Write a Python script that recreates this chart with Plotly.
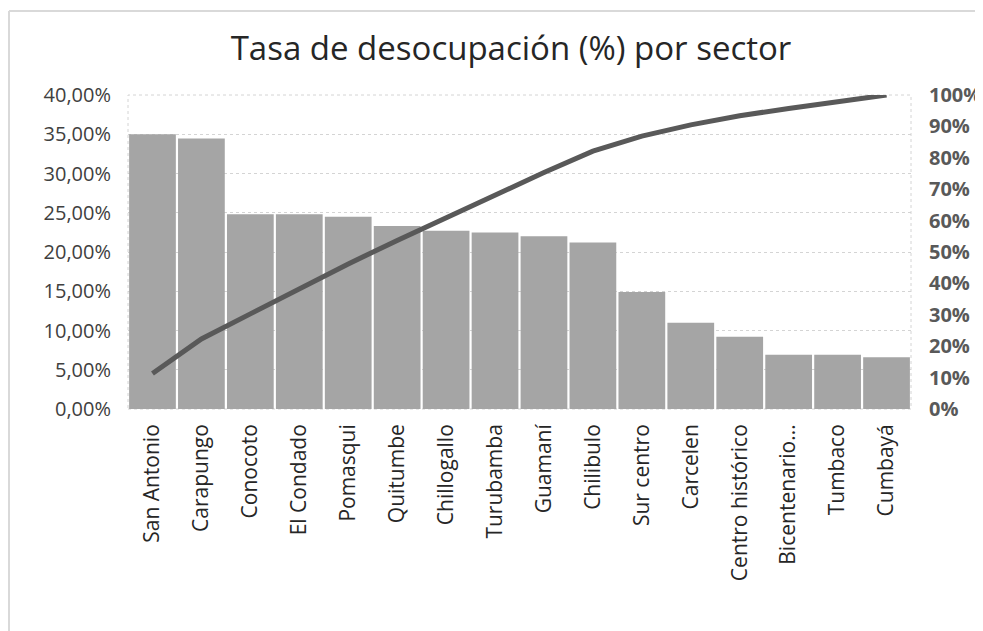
import plotly.graph_objects as go

sectores = ["San Antonio", "Carapungo", "Conocoto", "El Condado", "Pomasqui", "Quitumbe",
            "Chillogallo", "Turubamba", "Guamaní", "Chilibulo", "Sur centro", "Carcelen",
            "Centro histórico", "Bicentenario...", "Tumbaco", "Cumbayá"]
tasa = [35.0, 34.45, 24.8, 24.8, 24.5, 23.3, 22.7, 22.5, 22.0, 21.2, 14.9, 11.0, 9.2, 6.9, 6.9, 6.6]
acumulado = [11.3, 22.3, 30.3, 38.3, 46.2, 53.7, 61.0, 68.2, 75.3, 82.1, 86.9, 90.5, 93.4, 95.7, 97.9, 100.0]

left_ticks = [0, 5, 10, 15, 20, 25, 30, 35, 40]
left_labels = ["0,00%", "5,00%", "10,00%", "15,00%", "20,00%", "25,00%", "30,00%", "35,00%", "40,00%"]
right_ticks = [0, 10, 20, 30, 40, 50, 60, 70, 80, 90, 100]
right_labels = ["0%", "10%", "20%", "30%", "40%", "50%", "60%", "70%", "80%", "90%", "100%"]

W, H = 975, 623
L, T, R, B = 120, 87, 72, 222
dom_w = W - L - R
dom_h = H - T - B

fig = go.Figure()
fig.add_trace(go.Bar(x=sectores, y=tasa, marker=dict(color="#A5A5A5", line=dict(width=0)),
                     showlegend=False, hoverinfo="skip"))
fig.add_trace(go.Scatter(x=sectores, y=acumulado, yaxis="y2", mode="lines",
                         line=dict(color="#595959", width=5), showlegend=False))

fig.update_layout(
    width=W, height=H,
    margin=dict(l=L, r=R, t=T, b=B, autoexpand=False),
    paper_bgcolor="white", plot_bgcolor="white",
    bargap=0.045,
    font=dict(family="Open Sans, sans-serif", color="#404040"),
    title=dict(text="Tasa de desocupación (%) por sector", x=(511 - 8) / W,
               xref="container", xanchor="center",
               y=1 - 40 / H, yref="container", yanchor="middle",
               font=dict(size=33, color="#262626", family="Open Sans, sans-serif")),
    xaxis=dict(type="category", tickangle=-90, tickfont=dict(size=21, color="#262626"),
               showgrid=False, showline=False, ticks="", ticklabelstandoff=10, automargin=False),
    yaxis=dict(range=[0, 40], tickvals=left_ticks, ticktext=left_labels,
               tickfont=dict(size=20, color="#404040"),
               showgrid=True, gridcolor="#D4D4D4", griddash="dot", gridwidth=1,
               zeroline=False, showline=False, ticks="", ticklabelstandoff=16, automargin=False),
    yaxis2=dict(range=[0, 100], tickvals=right_ticks, ticktext=right_labels,
                overlaying="y", side="right", showgrid=False, zeroline=False,
                tickfont=dict(size=20, color="#595959", family="Open Sans, sans-serif", weight="bold"),
                ticks="", ticklabelstandoff=17, automargin=False),
    shapes=[
        dict(type="rect", xref="x domain", yref="y domain", x0=0, x1=1, y0=0, y1=1,
             line=dict(color="#D4D4D4", width=1, dash="dot"), layer="below"),
        dict(type="line", xref="paper", yref="paper",
             x0=-(L - 1) / dom_w, x1=1 + R / dom_w, y0=1 + (T - 3) / dom_h, y1=1 + (T - 3) / dom_h,
             line=dict(color="#D9D9D9", width=2)),
        dict(type="line", xref="paper", yref="paper",
             x0=-(L - 1) / dom_w, x1=-(L - 1) / dom_w, y0=1 + (T - 3) / dom_h, y1=-B / dom_h,
             line=dict(color="#D9D9D9", width=2)),
    ],
)

fig.write_html("out.html")
